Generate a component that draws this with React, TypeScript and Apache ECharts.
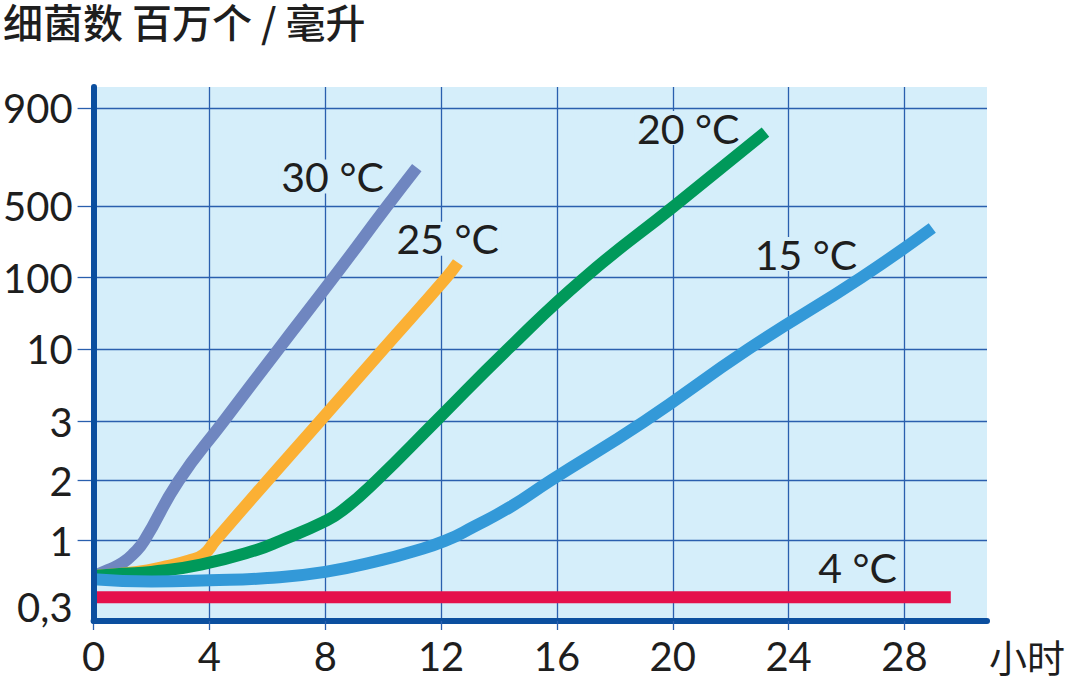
import React, { useEffect, useRef } from 'react';
import * as echarts from 'echarts';

// ---------- data ----------
const TITLE = '细菌数 百万个 / 毫升';
const X_NAME = '小时';
const X_TICKS = [0, 4, 8, 12, 16, 20, 24, 28];
const X_MAX = 30.85;

// The count axis of the original is hand-drawn and non-uniform.
const Y_TICK_VALUES = [0.3, 1, 2, 3, 10, 100, 500, 900];
const Y_TICK_LABELS = ['0,3', '1', '2', '3', '10', '100', '500', '900'];
// where each tick value sits on that axis, in % of the axis height
const Y_TICK_STOPS = [2.53, 15.04, 26.27, 37.32, 50.88, 64.29, 77.72, 96.01];
const Y_GRID_VALUES = [1, 2, 3, 10, 100, 500, 900];

const SERIES_NAMES = ['30 °C', '25 °C', '20 °C', '15 °C', '4 °C'];

// [hours, bacteria (millions / ml)]
const SERIES_30C: [number, number][] = [
  [0, 0.53], [0.5, 0.59], [1.0, 0.67], [1.4, 0.8], [1.75, 1],
  [2.94, 2], [4.48, 3], [6.38, 10], [8.28, 100], [10.14, 500], [11.16, 630],
];
const SERIES_25C: [number, number][] = [
  [0, 0.53], [1.5, 0.57], [2.5, 0.63], [3.3, 0.7], [3.8, 0.78], [4.2, 1],
  [6.0, 2], [7.8, 3], [10.0, 10], [12.18, 100], [12.58, 140],
];
const SERIES_20C: [number, number][] = [
  [0, 0.53], [1, 0.55], [2, 0.57], [3.7, 0.65], [5.65, 0.85], [6.45, 1],
  [7.93, 1.24], [8.6, 1.42], [9.76, 2], [11.8, 3], [14.3, 10],
  [16.95, 100], [20.05, 500], [23.2, 780],
];
const SERIES_15C: [number, number][] = [
  [0, 0.5], [2, 0.48], [4, 0.49], [6, 0.51], [8, 0.57], [10, 0.71], [11, 0.82],
  [12.15, 1], [13.1, 1.17], [14.4, 1.48], [15.77, 2], [19.0, 3], [22.6, 10],
  [26.5, 100], [28.96, 305],
];
const SERIES_4C: [number, number][] = [
  [0, 0.36], [29.6, 0.36],
];

// ---------- styles ----------
const BG = '#d5eefa';
const AXIS_COLOR = '#0b4f9f';
const GRID_COLOR = '#2a5fae';
const TEXT_COLOR = '#1e1e1e';
const LATIN_FONT = 'Lato, "Open Sans", sans-serif';
const CJK_FONT = '"Noto Sans CJK SC", sans-serif';

const SERIES_STYLE = [
  { data: SERIES_30C, color: '#6f86c0', offset: [-30, 9] },
  { data: SERIES_25C, color: '#fbb034', offset: [44, -24] },
  { data: SERIES_20C, color: '#00995a', offset: [-23, -4] },
  { data: SERIES_15C, color: '#3399d8', offset: [-72, 26] },
  { data: SERIES_4C, color: '#e5114b', offset: [-51, -30] },
];

// piecewise-logarithmic position of a count on the drawn axis
function toPos(v: number): number {
  const L = Math.log10;
  const n = Y_TICK_VALUES.length;
  let i = 0;
  while (i < n - 2 && v > Y_TICK_VALUES[i + 1]) i++;
  const t = (L(v) - L(Y_TICK_VALUES[i])) / (L(Y_TICK_VALUES[i + 1]) - L(Y_TICK_VALUES[i]));
  return Y_TICK_STOPS[i] + t * (Y_TICK_STOPS[i + 1] - Y_TICK_STOPS[i]);
}

export default function App() {
  const ref = useRef<HTMLDivElement>(null);

  useEffect(() => {
    if (!ref.current) return;
    const chart = echarts.init(ref.current, null, { renderer: 'svg' });

    const series = SERIES_STYLE.map((s, k) => {
      const pts = s.data.map(([x, v]) => [x, toPos(v)]);
      const last = pts[pts.length - 1];
      return {
        name: SERIES_NAMES[k],
        type: 'line',
        xAxisIndex: 0,
        yAxisIndex: 0,
        data: pts,
        smooth: 0.5,
        showSymbol: false,
        symbol: 'none',
        lineStyle: { color: s.color, width: 12, cap: 'butt', join: 'round' },
        z: 3 + k,
        markPoint: {
          silent: true,
          symbol: 'circle',
          symbolSize: 1,
          itemStyle: { color: 'rgba(0,0,0,0)' },
          data: [{ coord: last }],
          label: {
            show: true,
            position: 'inside',
            formatter: SERIES_NAMES[k],
            align: 'right',
            verticalAlign: 'middle',
            offset: s.offset,
            color: TEXT_COLOR,
            fontFamily: LATIN_FONT,
            fontSize: 41,
            lineHeight: 34,
            backgroundColor: BG,
            padding: [0, 3],
          },
        },
      };
    });

    const yStopsNoFirst = Y_GRID_VALUES.map((v) => Y_TICK_STOPS[Y_TICK_VALUES.indexOf(v)]);

    chart.setOption({
      animation: false,
      backgroundColor: '#ffffff',
      title: {
        text: TITLE,
        left: 3,
        top: 1,
        padding: [0, 0, 0, 0],
        textStyle: {
          fontSize: 40,
          lineHeight: 40,
          fontFamily: CJK_FONT,
          fontWeight: 500,
          color: TEXT_COLOR,
        },
      },
      grid: {
        left: 93,
        right: 93,
        top: 87,
        bottom: 66,
        show: true,
        backgroundColor: BG,
        borderWidth: 0,
        containLabel: false,
      },
      xAxis: {
        type: 'value',
        min: 0,
        max: X_MAX,
        name: X_NAME,
        nameLocation: 'end',
        nameGap: 2,
        nameTextStyle: {
          fontSize: 38,
          fontFamily: CJK_FONT,
          color: TEXT_COLOR,
          align: 'left',
          verticalAlign: 'top',
          padding: [15, 0, 0, 0],
        },
        axisLine: { show: true, lineStyle: { color: AXIS_COLOR, width: 6 } },
        axisTick: {
          show: true,
          customValues: X_TICKS,
          length: 9,
          lineStyle: { color: GRID_COLOR, width: 1.3 },
        },
        axisLabel: {
          customValues: X_TICKS,
          margin: 15,
          fontSize: 40,
          fontFamily: LATIN_FONT,
          color: TEXT_COLOR,
          formatter: (v: number) => String(v),
        },
        splitLine: { show: true, lineStyle: { color: GRID_COLOR, width: 1.3 } },
      },
      yAxis: [
        {
          type: 'value',
          min: 0,
          max: 100,
          axisLine: { show: false },
          axisTick: {
            show: true,
            customValues: yStopsNoFirst,
            length: 16,
            lineStyle: { color: GRID_COLOR, width: 1.3 },
          },
          axisLabel: {
            customValues: Y_TICK_STOPS,
            margin: 21,
            fontSize: 40,
            fontFamily: LATIN_FONT,
            color: TEXT_COLOR,
            padding: [0, 0, 5, 0],
            formatter: (v: number) => {
              let best = 0;
              Y_TICK_STOPS.forEach((s, i) => {
                if (Math.abs(s - v) < Math.abs(Y_TICK_STOPS[best] - v)) best = i;
              });
              return Y_TICK_LABELS[best];
            },
          },
          splitLine: { show: true, lineStyle: { color: GRID_COLOR, width: 1.3 } },
        },
        {
          // thick left axis line drawn above the curves
          type: 'value',
          min: 0,
          max: 100,
          position: 'left',
          offset: 0,
          z: 20,
          axisLine: { show: true, onZero: false, lineStyle: { color: AXIS_COLOR, width: 6 } },
          axisTick: { show: false },
          axisLabel: { show: false },
          splitLine: { show: false },
        },
      ],
      series,
    });

    return () => chart.dispose();
  }, []);

  return (
    <div
      ref={ref}
      style={{ position: 'fixed', left: 0, top: 0, width: 1080, height: 687, background: '#fff' }}
    />
  );
}
